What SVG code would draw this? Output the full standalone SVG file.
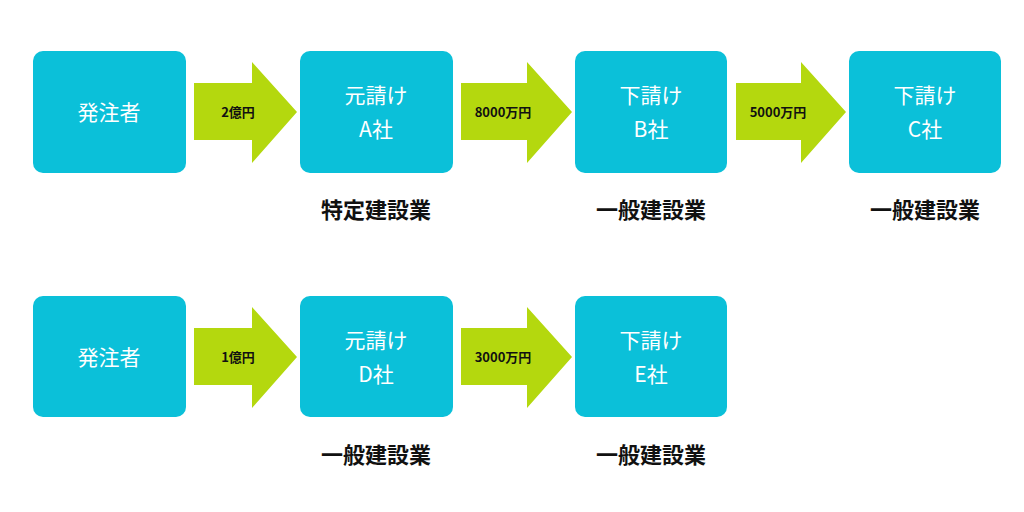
<svg xmlns="http://www.w3.org/2000/svg" width="1024" height="512" viewBox="0 0 1024 512">
<style>
.box{fill:#0bc0d9}
.arr{fill:#b4d80e}
.t{font-family:"Noto Sans CJK JP","Noto Sans",sans-serif;fill:#fff;font-size:21px;text-anchor:middle}
.a{font-family:"Noto Sans CJK JP","Noto Sans",sans-serif;fill:#111;font-size:13px;font-weight:bold;text-anchor:middle}
.l{font-family:"Noto Sans CJK JP","Noto Sans",sans-serif;fill:#111;font-size:22px;font-weight:bold;text-anchor:middle}
</style>
<rect width="1024" height="512" fill="#fff"/>
<g id="connectors">
<polygon class="arr" points="194,83 252,83 252,62 297,112 252,163 252,140 194,140"/>
<text class="a" x="238" y="117">2億円</text>
<polygon class="arr" points="461,83 527,83 527,62 572,112 527,163 527,140 461,140"/>
<text class="a" x="503" y="117">8000万円</text>
<polygon class="arr" points="736,83 801,83 801,62 846,112 801,163 801,140 736,140"/>
<text class="a" x="778" y="117">5000万円</text>
<polygon class="arr" points="194,328 252,328 252,307 297,357 252,408 252,385 194,385"/>
<text class="a" x="238" y="362">1億円</text>
<polygon class="arr" points="461,328 527,328 527,307 572,357 527,408 527,385 461,385"/>
<text class="a" x="503" y="362">3000万円</text>
</g>
<g id="n1"><rect class="box" x="33" y="51" width="153" height="122" rx="10"/><text class="t" x="109" y="120">発注者</text></g>
<g id="n2"><rect class="box" x="300" y="51" width="153" height="122" rx="10"/><text class="t" x="376" y="103">元請け</text><text class="t" x="376" y="137">A社</text><text class="l" x="376" y="218">特定建設業</text></g>
<g id="n3"><rect class="box" x="575" y="51" width="152" height="122" rx="10"/><text class="t" x="651" y="103">下請け</text><text class="t" x="651" y="137">B社</text><text class="l" x="651" y="218">一般建設業</text></g>
<g id="n4"><rect class="box" x="849" y="51" width="152" height="122" rx="10"/><text class="t" x="925" y="103">下請け</text><text class="t" x="925" y="137">C社</text><text class="l" x="925" y="218">一般建設業</text></g>
<g id="n5"><rect class="box" x="33" y="296" width="153" height="121" rx="10"/><text class="t" x="109" y="365">発注者</text></g>
<g id="n6"><rect class="box" x="300" y="296" width="153" height="121" rx="10"/><text class="t" x="376" y="348">元請け</text><text class="t" x="376" y="382">D社</text><text class="l" x="376" y="463">一般建設業</text></g>
<g id="n7"><rect class="box" x="575" y="296" width="152" height="121" rx="10"/><text class="t" x="651" y="348">下請け</text><text class="t" x="651" y="382">E社</text><text class="l" x="651" y="463">一般建設業</text></g>
</svg>
